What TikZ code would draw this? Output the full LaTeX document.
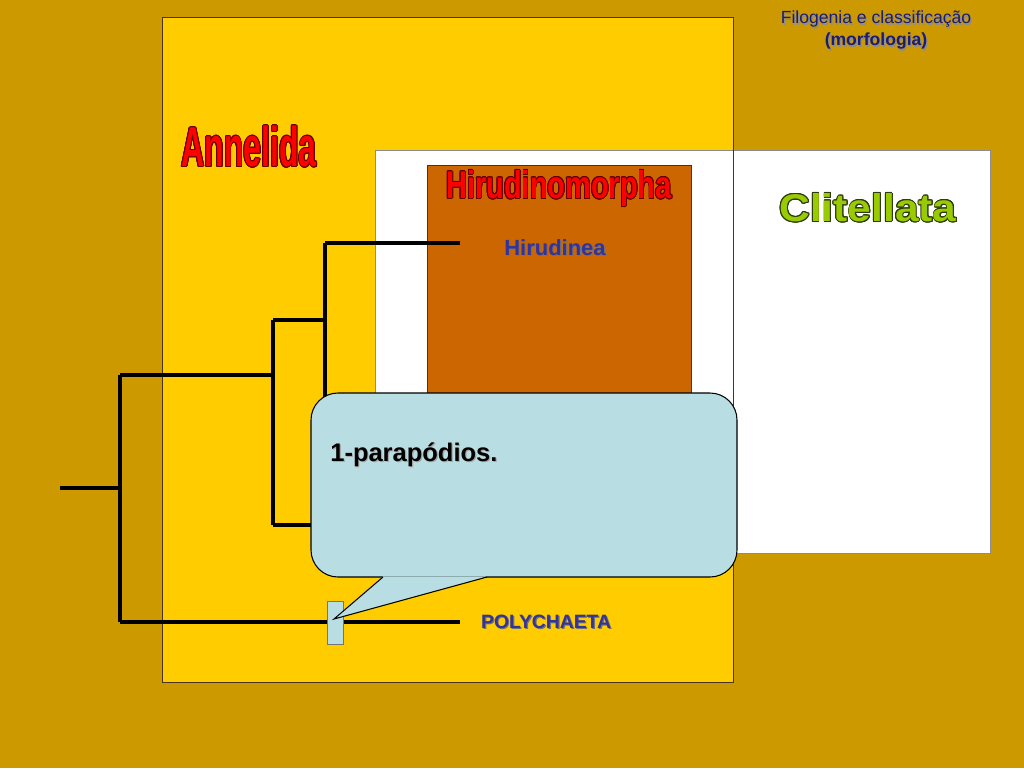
\documentclass[tikz,border=0pt]{standalone}
\usepackage{fontspec}
\setmainfont{Liberation Sans}
\usepackage{contour}
\contourlength{0.5pt}
\usetikzlibrary{positioning}

\definecolor{bgold}{HTML}{CC9900}
\definecolor{annyellow}{HTML}{FFCC00}
\definecolor{hirorange}{HTML}{CC6600}
\definecolor{callblue}{HTML}{B8DEE3}
\definecolor{taxblue}{HTML}{333399}
\definecolor{titlenavy}{HTML}{1C1C70}
\definecolor{clitgreen}{HTML}{99CC00}
\definecolor{darkred}{HTML}{660000}
\definecolor{darkolive}{HTML}{2E3A10}

% text with a small grey drop shadow
\newcommand{\shtext}[3][black!45]{\makebox[0pt][l]{\hspace{0.7pt}\raisebox{-0.7pt}{\textcolor{#1}{#3}}}\textcolor{#2}{#3}}

\begin{document}
\begin{tikzpicture}[x=0.02cm,y=-0.02cm,
  boxframe/.style={draw=#1,line width=0.5pt},
  branch/.style={line width=2pt,black},
  taxlbl/.style={inner sep=1pt,font=\fontsize{12.5}{15}\selectfont\bfseries},
  headlbl/.style={inner sep=0pt,font=\bfseries},
  titlelbl/.style={inner sep=0pt,align=center,font=\fontsize{10}{12.5}\selectfont},
  calltxt/.style={inner sep=0pt,anchor=west,font=\fontsize{14.5}{17}\selectfont\bfseries},
]

% === background and group boxes ===
\fill[bgold] (0,0) rectangle (1024,768);
\useasboundingbox (0,0) rectangle (1024,768);
\fill[annyellow] (162,17) rectangle (733,682);
\filldraw[fill=white,boxframe=black!45] (375,150) rectangle (990,553);
\draw[boxframe=black!60!brown] (162,17) rectangle (733,682);
\filldraw[fill=hirorange,boxframe=black!60!brown] (427,165) rectangle (691,540);

% === headings ===
\node[titlelbl] (filo) at (876,31) {\shtext{titlenavy}{Filogenia e classificação}\\\shtext{titlenavy}{\bfseries(morfologia)}};
\node[headlbl,font=\fontsize{32}{36}\selectfont\bfseries] (annelida) at (249,147)
  {\contour{darkred}{\scalebox{0.57}[1]{\textcolor{red}{Annelida}}}};
\node[headlbl,font=\fontsize{22}{26}\selectfont\bfseries] (hirudino) at (559,189)
  {\contour{darkred}{\scalebox{0.75}[1]{\textcolor{red}{Hirudinomorpha}}}};
\node[headlbl,font=\fontsize{22}{26}\selectfont\bfseries] (clitellata) at (868,208)
  {\contour{darkolive}{\scalebox{1.1}[1]{\textcolor{clitgreen}{Clitellata}}}};

% === cladogram ===
\coordinate (root) at (60,488);
\coordinate (n1) at (120,488);
\coordinate (n1top) at (120,375);
\coordinate (n1bot) at (120,622);
\coordinate (n2) at (273,375);
\coordinate (n2top) at (273,320);
\coordinate (n2bot) at (273,525);
\coordinate (n3) at (325,320);
\coordinate (n3top) at (325,243);
\coordinate (n3bot) at (325,430);
\coordinate (hirtip) at (460,243);
\coordinate (clitip) at (400,525);
\coordinate (polytip) at (460,622);

\draw[branch] (root) -- (n1);
\draw[branch] (n1top) -- (n1bot);
\draw[branch] (n1top) -- (n2);
\draw[branch] (n2top) -- (n2bot);
\draw[branch] (n2top) -- (n3);
\draw[branch] (n3top) -- (n3bot);
\draw[branch] (n3top) -- (hirtip);
\draw[branch] (n2bot) -- (clitip);
\draw[branch] (n1bot) -- (polytip);

\node[taxlbl] (hirudinea) at (555,248) {\shtext[black!55]{taxblue}{Hirudinea}};
\node[taxlbl,font=\fontsize{11}{13}\selectfont\bfseries,right=0.38cm of polytip] (poly) {\shtext[black!55]{taxblue}{POLYCHAETA}};

% character mark on the polychaete branch
\filldraw[fill=callblue,draw=black!55,line width=0.5pt] (327,601) rectangle (343,644);

% === callout ===
\filldraw[fill=callblue,draw=black,line width=0.6pt,rounded corners=0.54cm] (311,393) rectangle (737,577);
\fill[callblue] (383,576.4) -- (334,619) -- (487,576.4) -- cycle;
\coordinate (tailL) at (383,577);
\coordinate (tailtip) at (334,619);
\coordinate (tailR) at (487,577);
\draw[black,line width=0.6pt,line join=miter] (tailL) -- (tailtip) -- (tailR);
\node[calltxt] (parap) at (330,455) {\shtext[black!35]{black}{1-parapódios.}};

\end{tikzpicture}
\end{document}
